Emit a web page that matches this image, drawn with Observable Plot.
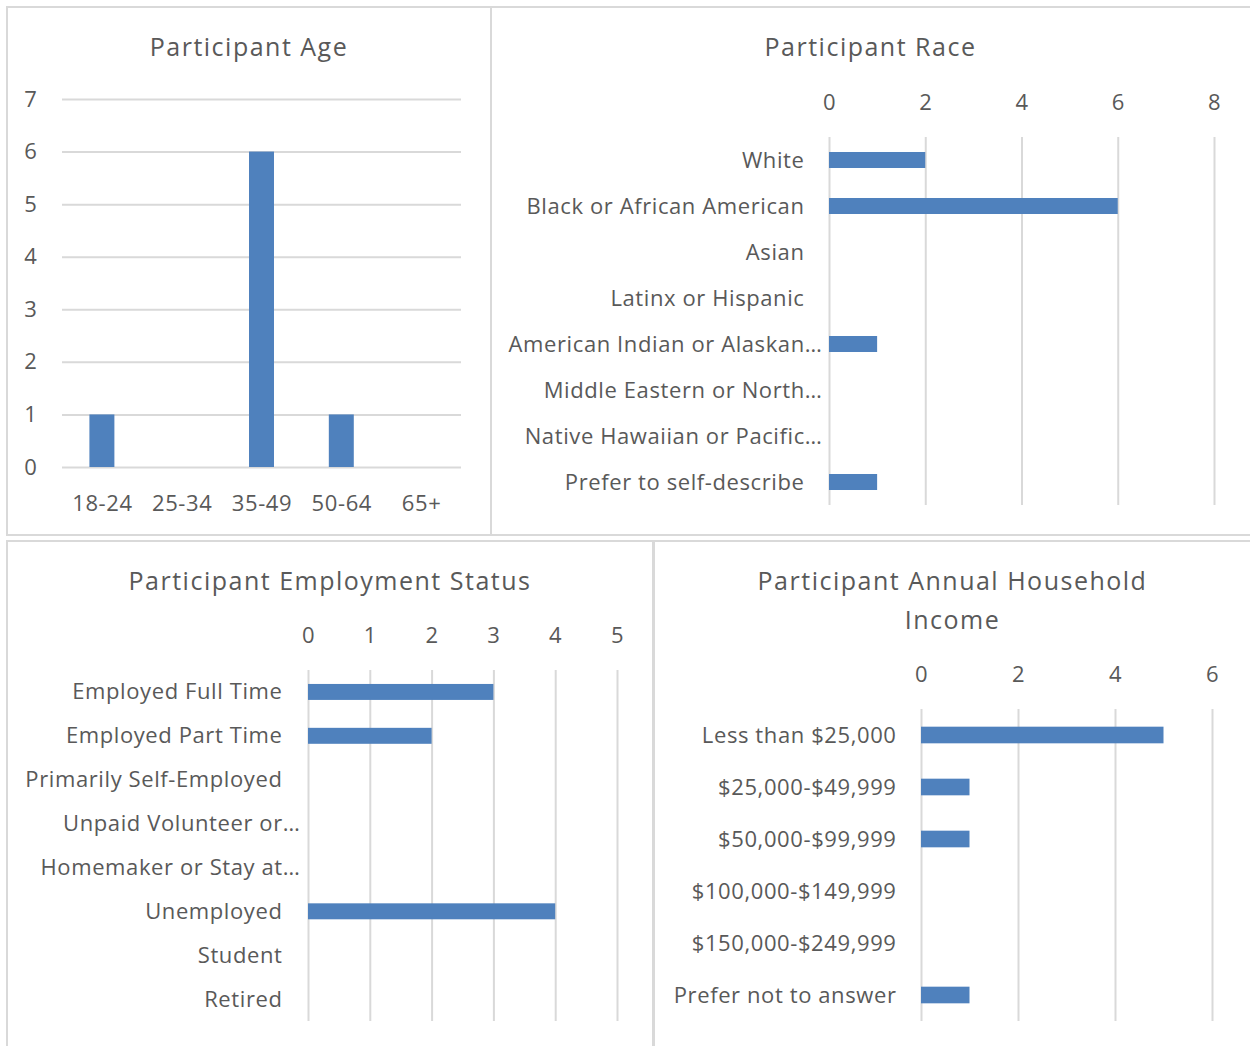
<!DOCTYPE html>
<html>
<head>
<meta charset="utf-8">
<script src="https://cdn.jsdelivr.net/npm/d3@7"></script>
<script src="https://cdn.jsdelivr.net/npm/@observablehq/plot@0.6"></script>
<style>
  html, body { margin: 0; padding: 0; background: #fff; }
  #page { position: relative; width: 1250px; height: 1046px; overflow: hidden; font-family: "Open Sans", sans-serif; color: #595959; }
  .panel { position: absolute; box-sizing: border-box; border: 2px solid #d9d9d9; background: #fff; }
  .title { position: absolute; text-align: center; font-size: 25px; letter-spacing: 1.5px; line-height: 39px; color: #595959; white-space: nowrap; }
  .chart { position: absolute; }
  .chart svg { overflow: visible; }
  .chart svg text { letter-spacing: 0.6px; }
</style>
</head>
<body>
<div id="page">
  <div class="panel" style="left:6px;top:6px;width:486px;height:530px;"></div>
  <div class="panel" style="left:490px;top:6px;width:764px;height:530px;"></div>
  <div class="panel" style="left:6px;top:540px;width:648px;height:512px;"></div>
  <div class="panel" style="left:653px;top:540px;width:601px;height:512px;"></div>

  <div class="title" style="left:8px;width:482px;top:27px;">Participant Age</div>
  <div class="title" style="left:492px;width:757px;top:27px;">Participant Race</div>
  <div class="title" style="left:8px;width:644px;top:561px;">Participant Employment Status</div>
  <div class="title" style="left:656px;width:593px;top:561px;">Participant Annual Household<br>Income</div>

  <div class="chart" id="age" style="left:8px;top:80px;"></div>
  <div class="chart" id="race" style="left:492px;top:80px;"></div>
  <div class="chart" id="employment" style="left:8px;top:600px;"></div>
  <div class="chart" id="income" style="left:656px;top:640px;"></div>
</div>
<script>
const ageCategories = ["18-24", "25-34", "35-49", "50-64", "65+"];
const ageCounts = [1, 0, 6, 1, 0];
const ageTicks = [0, 1, 2, 3, 4, 5, 6, 7];

const raceCategories = ["White", "Black or African American", "Asian", "Latinx or Hispanic", "American Indian or Alaskan…", "Middle Eastern or North…", "Native Hawaiian or Pacific…", "Prefer to self-describe"];
const raceCounts = [2, 6, 0, 0, 1, 0, 0, 1];
const raceTicks = [0, 2, 4, 6, 8];

const employmentCategories = ["Employed Full Time", "Employed Part Time", "Primarily Self-Employed", "Unpaid Volunteer or…", "Homemaker or Stay at…", "Unemployed", "Student", "Retired"];
const employmentCounts = [3, 2, 0, 0, 0, 4, 0, 0];
const employmentTicks = [0, 1, 2, 3, 4, 5];

const incomeCategories = ["Less than $25,000", "$25,000-$49,999", "$50,000-$99,999", "$100,000-$149,999", "$150,000-$249,999", "Prefer not to answer"];
const incomeCounts = [5, 1, 1, 0, 0, 1];
const incomeTicks = [0, 2, 4, 6];

const FONT = "'Open Sans', sans-serif";
const BAR = "#4f81bd";
const GRID = "#d9d9d9";
const TEXT = "#595959";
const style = {fontFamily: FONT, fontSize: "22px", color: TEXT, background: "transparent", overflow: "visible"};

// Age: vertical bars
{
  const data = ageCategories.map((c, i) => ({c, v: ageCounts[i]}));
  const p = 0.687;
  const chart = Plot.plot({
    width: 482, height: 450,
    marginLeft: 54, marginRight: 29, marginTop: 19, marginBottom: 63,
    style,
    x: {domain: ageCategories, paddingInner: p, paddingOuter: p / 2, round: false},
    y: {domain: [0, 7]},
    marks: [
      Plot.gridY(ageTicks, {stroke: GRID, strokeOpacity: 1, strokeWidth: 2}),
      Plot.axisY(ageTicks, {tickSize: 0, tickPadding: 25, label: null, fill: TEXT, tickFormat: d => String(d)}),
      Plot.axisX({tickSize: 0, tickPadding: 28, label: null, fill: TEXT}),
      Plot.barY(data, {x: "c", y: "v", fill: BAR})
    ]
  });
  document.getElementById("age").append(chart);
}

function hbar(id, cats, vals, ticks, o) {
  const data = cats.map((c, i) => ({c, v: vals[i]}));
  const full = cats.filter(c => !c.endsWith("…"));
  const trunc = cats.filter(c => c.endsWith("…"));
  const marks = [
    Plot.gridX(ticks, {stroke: GRID, strokeOpacity: 1, strokeWidth: 2}),
    Plot.axisX(ticks, {anchor: "top", tickSize: 0, tickPadding: o.tp, label: null, fill: TEXT}),
    Plot.axisY(full, {anchor: "left", tickSize: 0, tickPadding: o.lp, label: null, fill: TEXT})
  ];
  if (trunc.length) marks.push(Plot.axisY(trunc, {anchor: "left", tickSize: 0, tickPadding: o.lpt, label: null, fill: TEXT}));
  marks.push(Plot.barX(data, {x: "v", y: "c", fill: BAR}));
  const chart = Plot.plot({
    width: o.w, height: o.h,
    marginLeft: o.ml, marginRight: o.mr, marginTop: o.mt, marginBottom: o.mb,
    style,
    x: {domain: [ticks[0], ticks[ticks.length - 1]]},
    y: {domain: cats, paddingInner: o.p, paddingOuter: o.p / 2, round: false},
    marks
  });
  document.getElementById(id).append(chart);
}

hbar("race", raceCategories, raceCounts, raceTicks,
  {w: 757, h: 450, ml: 337, mr: 35, mt: 57, mb: 25, p: 0.652, tp: 28, lp: 25, lpt: 7});
hbar("employment", employmentCategories, employmentCounts, employmentTicks,
  {w: 644, h: 446, ml: 300, mr: 35, mt: 70, mb: 25, p: 0.636, tp: 28, lp: 26, lpt: 8});
hbar("income", incomeCategories, incomeCounts, incomeTicks,
  {w: 593, h: 406, ml: 265, mr: 37, mt: 69, mb: 25, p: 0.68, tp: 28, lp: 25, lpt: 7});
</script>
</body>
</html>
